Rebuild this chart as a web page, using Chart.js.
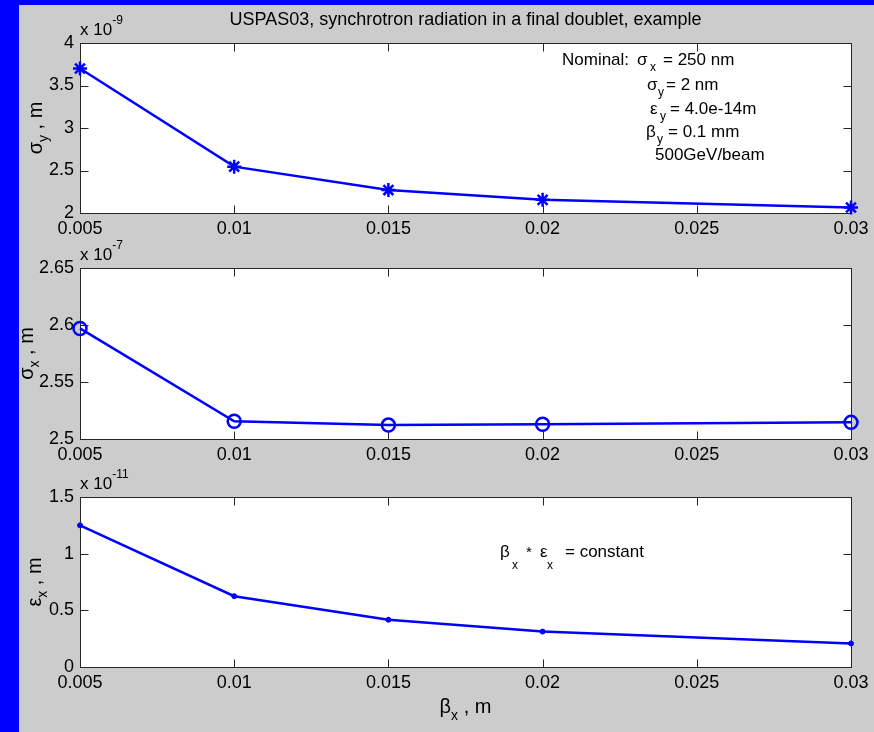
<!DOCTYPE html>
<html lang="en">
  <head>
    <meta charset="UTF-8" />
    <title>USPAS03, synchrotron radiation in a final doublet</title>
    <script src="https://cdn.jsdelivr.net/npm/chart.js"></script>
    <style>
      body {
        margin: 0;
        width: 874px;
        height: 732px;
        overflow: hidden;
        position: relative;
        background: #0000ff;
      }
      #panel {
        position: absolute;
        left: 19px;
        top: 5px;
        width: 855px;
        height: 727px;
        background: #cccccc;
      }
      canvas {
        position: absolute;
        left: 0;
        top: 0;
      }
    </style>
  </head>
  <body>
    <div id="panel"></div>
    <canvas id="sigmaYChart" width="874" height="732"></canvas>
    <canvas id="sigmaXChart" width="874" height="732"></canvas>
    <canvas id="emitChart" width="874" height="732"></canvas>

    <script>
      // horizontal beta function at the IP (m)
      const betaX = [0.005, 0.01, 0.015, 0.02, 0.03];
      const xTicks = [0.005, 0.01, 0.015, 0.02, 0.025, 0.03];

      // vertical beam size, x 1e-9 m
      const sigmaY = [3.7, 2.545, 2.27, 2.155, 2.065];
      const sigmaYTicks = [2, 2.5, 3, 3.5, 4];

      // horizontal beam size, x 1e-7 m
      const sigmaX = [2.597, 2.5155, 2.5122, 2.513, 2.5146];
      const sigmaXTicks = [2.5, 2.55, 2.6, 2.65];

      // horizontal emittance, x 1e-11 m
      const emitX = [1.25, 0.625, 0.417, 0.3125, 0.208];
      const emitXTicks = [0, 0.5, 1, 1.5];

      const FONT = "'Liberation Sans', Arial, Helvetica, sans-serif";
      const BLUE = "#0000ff";
      const AXIS = "#262626";
      const TICK = 8;
      const PLOT_LEFT = 80;
      const PLOT_RIGHT = 851;

      function font(size) {
        return size + "px " + FONT;
      }

      // draw a run of [text, dy, size] pieces left to right, starting at x
      function drawRun(ctx, x, y, pieces) {
        pieces.forEach(([text, dy, size]) => {
          ctx.font = font(size);
          ctx.fillText(text, x, y + dy);
          x += ctx.measureText(text).width;
        });
      }

      function runWidth(ctx, pieces) {
        let w = 0;
        pieces.forEach(([text, dy, size]) => {
          ctx.font = font(size);
          w += ctx.measureText(text).width;
        });
        return w;
      }

      // white plot background, box and inward ticks on all four sides
      const axesBox = {
        id: "axesBox",
        beforeDraw(chart) {
          const { ctx, chartArea: a } = chart;
          ctx.save();
          ctx.fillStyle = "#ffffff";
          ctx.fillRect(a.left, a.top, a.width, a.height);
          ctx.restore();
        },
        beforeDatasetsDraw(chart) {
          const { ctx, chartArea: a, scales } = chart;
          const l = Math.round(a.left) + 0.5;
          const r = Math.round(a.right) + 0.5;
          const t = Math.round(a.top) + 0.5;
          const b = Math.round(a.bottom) + 0.5;
          ctx.save();
          ctx.strokeStyle = AXIS;
          ctx.lineWidth = 1;
          ctx.beginPath();
          scales.x.ticks.forEach((tk) => {
            const px = Math.round(scales.x.getPixelForValue(tk.value)) + 0.5;
            ctx.moveTo(px, b);
            ctx.lineTo(px, b - TICK);
            ctx.moveTo(px, t);
            ctx.lineTo(px, t + TICK);
          });
          scales.y.ticks.forEach((tk) => {
            const py = Math.round(scales.y.getPixelForValue(tk.value)) + 0.5;
            ctx.moveTo(l, py);
            ctx.lineTo(l + TICK, py);
            ctx.moveTo(r, py);
            ctx.lineTo(r - TICK, py);
          });
          ctx.stroke();
          ctx.strokeRect(l, t, r - l, b - t);
          ctx.restore();
        },
      };

      // exponent, rotated y label and any free text of a panel
      function panelText(p) {
        return {
          id: "panelText",
          afterDraw(chart) {
            const { ctx, chartArea: a } = chart;
            ctx.save();
            ctx.fillStyle = "#000";
            ctx.textBaseline = "alphabetic";
            ctx.textAlign = "left";

            drawRun(ctx, a.left, a.top - 8, [
              ["x 10", 0, 17],
              [p.exponent, -11, 12],
            ]);

            const yl = p.yLabel;
            ctx.save();
            ctx.translate(p.yLabelX, (a.top + a.bottom) / 2);
            ctx.rotate(-Math.PI / 2);
            drawRun(ctx, -runWidth(ctx, yl) / 2, 0, yl);
            ctx.restore();

            (p.notes || []).forEach(([text, x, y, size]) => {
              ctx.font = font(size);
              ctx.fillText(text, x, y);
            });
            if (p.extra) p.extra(ctx, a);
            ctx.restore();
          },
        };
      }

      function makePanel(id, p) {
        return new Chart(document.getElementById(id), {
          type: "line",
          data: {
            datasets: [
              {
                data: betaX.map((x, i) => ({ x: x, y: p.values[i] })),
                borderColor: BLUE,
                borderWidth: 2.5,
                tension: 0,
                pointStyle: p.pointStyle,
                pointRadius: p.pointRadius,
                pointBorderColor: BLUE,
                pointBackgroundColor: p.pointFill,
                pointBorderWidth: p.pointWidth,
                clip: false,
              },
            ],
          },
          options: {
            responsive: false,
            animation: false,
            events: [],
            layout: {
              padding: {
                left: 0,
                right: 874 - PLOT_RIGHT,
                top: p.top,
                bottom: 732 - p.bottom - 30,
              },
            },
            plugins: {
              legend: { display: false },
              tooltip: { enabled: false },
            },
            scales: {
              x: {
                type: "linear",
                min: xTicks[0],
                max: xTicks[xTicks.length - 1],
                afterBuildTicks: (s) => {
                  s.ticks = xTicks.map((v) => ({ value: v }));
                },
                afterFit: (s) => {
                  s.height = 30;
                },
                grid: { display: false, drawTicks: false },
                border: { display: false },
                ticks: {
                  padding: 5,
                  color: "#000",
                  font: { family: FONT, size: 18 },
                  maxRotation: 0,
                  autoSkip: false,
                  callback: (v) => String(+v.toFixed(3)),
                },
              },
              y: {
                type: "linear",
                min: p.ticks[0],
                max: p.ticks[p.ticks.length - 1],
                afterBuildTicks: (s) => {
                  s.ticks = p.ticks.map((v) => ({ value: v }));
                },
                afterFit: (s) => {
                  s.width = PLOT_LEFT;
                },
                grid: { display: false, drawTicks: false },
                border: { display: false },
                ticks: {
                  padding: 6,
                  color: "#000",
                  font: { family: FONT, size: 18 },
                  callback: (v) => String(+v.toFixed(3)),
                },
              },
            },
          },
          plugins: [axesBox, panelText(p)],
        });
      }

      // sigma_y vs beta_x, with the title and the nominal parameters
      makePanel("sigmaYChart", {
        values: sigmaY,
        ticks: sigmaYTicks,
        top: 43,
        bottom: 213,
        pointStyle: "star",
        pointRadius: 7,
        pointWidth: 2.5,
        pointFill: BLUE,
        exponent: "-9",
        yLabelX: 42,
        yLabel: [
          ["σ", 0, 20],
          ["y", 6, 14],
          [" , m", 0, 20],
        ],
        notes: [
          ["Nominal:", 562, 65, 17],
          ["σ", 637, 65, 17],
          ["x", 650, 71, 12],
          ["= 250 nm", 663, 65, 17],
          ["σ", 647, 90, 17],
          ["y", 658, 96, 12],
          ["= 2 nm", 666, 90, 17],
          ["ε", 650, 114, 17],
          ["y", 660, 120, 12],
          ["= 4.0e-14m", 670, 114, 17],
          ["β", 646, 137, 17],
          ["y", 657, 143, 12],
          ["= 0.1 mm", 668, 137, 17],
          ["500GeV/beam", 655, 160, 17],
        ],
        extra: (ctx, a) => {
          ctx.font = font(18);
          ctx.textAlign = "center";
          ctx.fillText(
            "USPAS03, synchrotron radiation in a final doublet, example",
            (a.left + a.right) / 2,
            25
          );
        },
      });

      // sigma_x vs beta_x
      makePanel("sigmaXChart", {
        values: sigmaX,
        ticks: sigmaXTicks,
        top: 268,
        bottom: 439,
        pointStyle: "circle",
        pointRadius: 6.5,
        pointWidth: 2.5,
        pointFill: "rgba(0,0,0,0)",
        exponent: "-7",
        yLabelX: 33,
        yLabel: [
          ["σ", 0, 20],
          ["x", 6, 14],
          [" , m", 0, 20],
        ],
      });

      // epsilon_x vs beta_x, with the beta*emittance note and the x label
      makePanel("emitChart", {
        values: emitX,
        ticks: emitXTicks,
        top: 497,
        bottom: 667,
        pointStyle: "circle",
        pointRadius: 2.5,
        pointWidth: 1,
        pointFill: BLUE,
        exponent: "-11",
        yLabelX: 41,
        yLabel: [
          ["ε", 0, 20],
          ["x", 6, 14],
          [" , m", 0, 20],
        ],
        notes: [
          ["β", 500, 557, 17],
          ["x", 512, 569, 12],
          ["*", 526, 557, 15],
          ["ε", 540, 557, 17],
          ["x", 547, 569, 12],
          ["= constant", 565, 557, 17],
        ],
        extra: (ctx, a) => {
          const label = [
            ["β", 0, 20],
            ["x", 7, 14],
            [" , m", 0, 20],
          ];
          drawRun(ctx, (a.left + a.right) / 2 - runWidth(ctx, label) / 2, 713, label);
        },
      });
    </script>
  </body>
</html>
